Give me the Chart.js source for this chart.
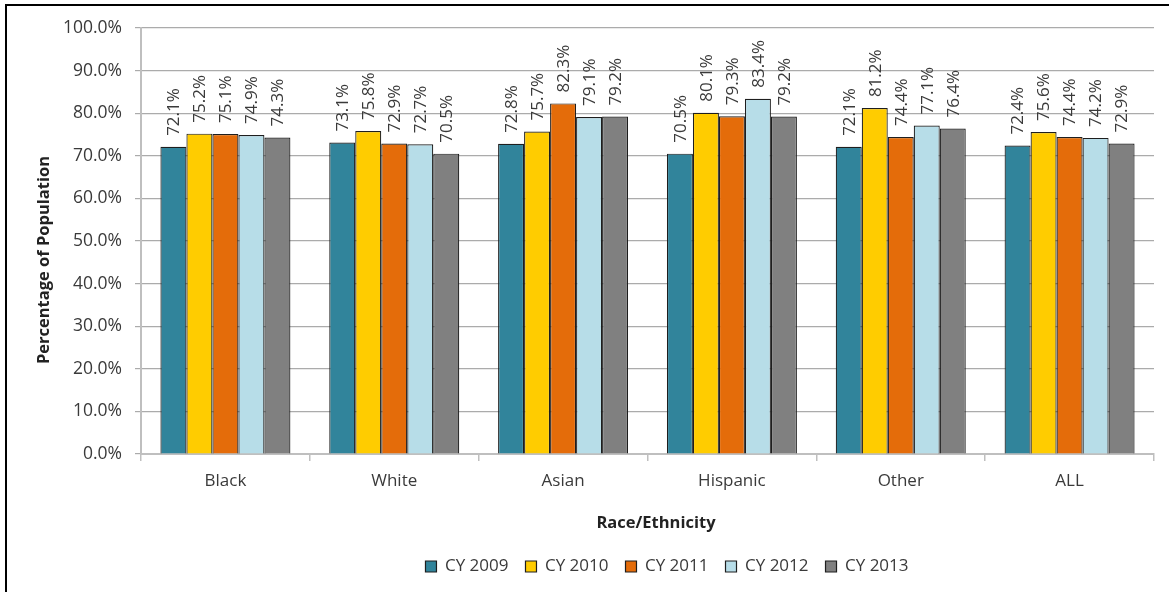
<!DOCTYPE html>
<html>
<head>
<meta charset="utf-8">
<script src="https://cdn.jsdelivr.net/npm/chart.js@4"></script>
<style>
  html, body { margin: 0; padding: 0; background: #fff; overflow: hidden; }
  #frame { position: absolute; left: 5px; top: 4px; width: 1200px; height: 620px;
           border-left: 2px solid #000; border-top: 2px solid #000; }
  #wrap { position: absolute; left: 0; top: 0; width: 1169px; height: 592px; }
</style>
</head>
<body>
<div id="frame"></div>
<div id="wrap"><canvas id="chart"></canvas></div>
<script>
// Race/Ethnicity groups and yearly percentages
const categories = ['Black', 'White', 'Asian', 'Hispanic', 'Other', 'ALL'];
const cy2009 = [72.1, 73.1, 72.8, 70.5, 72.1, 72.4];
const cy2010 = [75.2, 75.8, 75.7, 80.1, 81.2, 75.6];
const cy2011 = [75.1, 72.9, 82.3, 79.3, 74.4, 74.4];
const cy2012 = [74.9, 72.7, 79.1, 83.4, 77.1, 74.2];
const cy2013 = [74.3, 70.5, 79.2, 79.2, 76.4, 72.9];
const seriesNames = ['CY 2009', 'CY 2010', 'CY 2011', 'CY 2012', 'CY 2013'];
const yTicks = [0, 10, 20, 30, 40, 50, 60, 70, 80, 90, 100];

const COLORS = ['#31849B', '#FFCC00', '#E46C0A', '#B7DDE8', '#808080'];
const FONT = "'Open Sans', 'DejaVu Sans', sans-serif";
const TEXT = '#3a3a3a';

// vertical value labels above each bar (Excel-style, rotated 90°)
const barLabels = {
  id: 'barLabels',
  afterDatasetsDraw(chart) {
    const ctx = chart.ctx;
    ctx.save();
    ctx.font = `17px ${FONT}`;
    ctx.fillStyle = TEXT;
    ctx.textAlign = 'left';
    ctx.textBaseline = 'middle';
    chart.data.datasets.forEach((ds, di) => {
      chart.getDatasetMeta(di).data.forEach((bar, i) => {
        ctx.save();
        ctx.translate(bar.x, bar.y - 11);
        ctx.rotate(-Math.PI / 2);
        ctx.fillText(ds.data[i].toFixed(1) + '%', 0, 1);
        ctx.restore();
      });
    });
    ctx.restore();
  }
};

// axis titles sit a bit off-centre in the original, so draw them here
const axisTitles = {
  id: 'axisTitles',
  afterLayout(chart) {
    // legend is centred a little right of the canvas middle
    if (chart.legend) chart.legend.left += 180;
  },
  afterDraw(chart) {
    const { ctx, chartArea } = chart;
    ctx.save();
    ctx.font = `bold 16.5px ${FONT}`;
    ctx.fillStyle = '#222';
    ctx.textAlign = 'center';
    ctx.textBaseline = 'middle';
    ctx.fillText('Race/Ethnicity', 656, 523);
    ctx.translate(44, (chartArea.top + chartArea.bottom) / 2 + 19);
    ctx.rotate(-Math.PI / 2);
    ctx.fillText('Percentage of Population', 0, 0);
    ctx.restore();
  }
};

const allSeries = [cy2009, cy2010, cy2011, cy2012, cy2013];

new Chart(document.getElementById('chart'), {
  type: 'bar',
  data: {
    labels: categories,
    datasets: allSeries.map((vals, i) => ({
      label: seriesNames[i],
      data: vals,
      backgroundColor: COLORS[i],
      borderColor: '#1e1e1e',
      borderWidth: 1.2,
      categoryPercentage: 0.77,
      barPercentage: 1
    }))
  },
  options: {
    responsive: true,
    maintainAspectRatio: false,
    animation: false,
    layout: { padding: { left: 0, right: 15, top: 28, bottom: 7 } },
    plugins: {
      legend: {
        position: 'bottom',
        labels: {
          font: { family: FONT, size: 17 },
          color: TEXT,
          boxWidth: 11,
          boxHeight: 11,
          padding: 17
        }
      },
      tooltip: { enabled: false }
    },
    scales: {
      x: {
        afterFit: s => { s.height = 87; },
        grid: {
          offset: true,
          drawOnChartArea: false,
          drawTicks: true,
          tickLength: 7,
          color: '#bfbfbf',
          lineWidth: 1.5
        },
        border: { color: '#bfbfbf', width: 2 },
        ticks: { font: { family: FONT, size: 17 }, color: TEXT, padding: 10 }
      },
      y: {
        min: 0,
        max: 100,
        afterFit: s => { s.width = 141; },
        afterBuildTicks: s => { s.ticks = yTicks.map(v => ({ value: v })); },
        grid: { color: '#ababab', lineWidth: 1.2, tickLength: 6 },
        border: { color: '#bfbfbf', width: 2 },
        ticks: {
          font: { family: FONT, size: 17.5 },
          color: TEXT,
          padding: 13,
          callback: v => Number(v).toFixed(1) + '%'
        }
      }
    }
  },
  plugins: [barLabels, axisTitles]
});
</script>
</body>
</html>
